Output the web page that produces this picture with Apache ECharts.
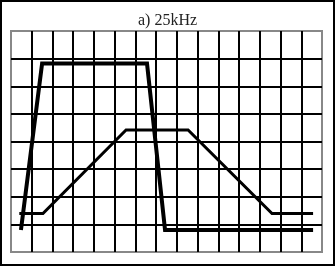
<!DOCTYPE html>
<html>
<head>
<meta charset="utf-8">
<script src="https://cdn.jsdelivr.net/npm/echarts@6/dist/echarts.min.js"></script>
<style>
html,body{margin:0;padding:0;background:#fff;}
#c{width:335px;height:267px;}
</style>
</head>
<body>
<div id="c"></div>
<script>
var titleText = "a) 25kHz";
// horizontal divisions 0..15, vertical divisions 0..8
var xDivisions = 15;
var yDivisions = 8;
// thick square-pulse trace: [division x, division y]
var pulseX = [0.48, 1.50, 6.56, 7.43, 14.57];
var pulseY = [0.80, 6.82, 6.82, 0.80, 0.80];
// thin trapezoid trace
var trapX = [0.40, 1.54, 5.55, 8.54, 12.59, 14.57];
var trapY = [1.39, 1.39, 4.42, 4.42, 1.39, 1.39];

function pairs(xs, ys){ return xs.map(function(x,i){ return [x, ys[i]]; }); }

var chart = echarts.init(document.getElementById('c'), null, {renderer:'canvas'});
chart.setOption({
  animation:false,
  backgroundColor:'#fff',
  title:{
    text:titleText, left:'center', top:13, padding:0,
    textStyle:{fontFamily:'Liberation Serif', fontSize:16, fontWeight:'normal', color:'#222'}
  },
  graphic:[{
    type:'rect', shape:{x:1, y:1, width:333, height:264},
    style:{fill:'none', stroke:'#000', lineWidth:2}, z:100
  }],
  grid:{left:11, top:31, right:13, bottom:15, show:true, borderColor:'#888', borderWidth:2, backgroundColor:'#fff'},
  xAxis:{
    type:'value', min:0, max:xDivisions, interval:1,
    axisLine:{show:false}, axisTick:{show:false}, axisLabel:{show:false},
    splitLine:{show:true, showMinLine:false, showMaxLine:false, lineStyle:{color:'#000', width:2}}
  },
  yAxis:{
    type:'value', min:0, max:yDivisions, interval:1,
    axisLine:{show:false}, axisTick:{show:false}, axisLabel:{show:false},
    splitLine:{show:true, showMinLine:false, showMaxLine:false, lineStyle:{color:'#000', width:2}}
  },
  series:[
    {type:'line', data:pairs(trapX, trapY), showSymbol:false, symbol:'none',
     lineStyle:{color:'#000', width:3, join:'miter'}, z:3},
    {type:'line', data:pairs(pulseX, pulseY), showSymbol:false, symbol:'none',
     lineStyle:{color:'#000', width:4, join:'miter'}, z:4}
  ]
});
</script>
</body>
</html>
